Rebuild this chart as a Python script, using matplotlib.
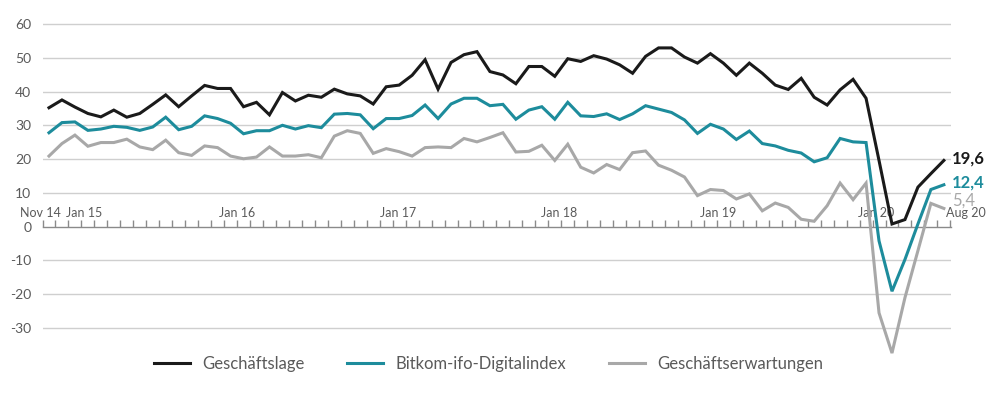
import matplotlib.pyplot as plt
import numpy as np

plt.rcParams['font.family'] = ['Lato', 'DejaVu Sans']
plt.rcParams['axes.unicode_minus'] = False

# monthly values Nov 2014 .. Aug 2020
months = np.arange(70)
lage = [35.2, 37.5, 35.4, 33.5, 32.5, 34.5, 32.4, 33.5, 36.2, 39.0,
        35.5, 38.7, 41.8, 40.9, 40.9, 35.5, 36.8, 33.1, 39.7, 37.2,
        38.9, 38.3, 40.7, 39.3, 38.7, 36.3, 41.4, 41.9, 44.8, 49.4,
        40.7, 48.6, 50.9, 51.8, 45.9, 44.9, 42.3, 47.4, 47.4, 44.5,
        49.7, 48.9, 50.6, 49.6, 47.9, 45.4, 50.4, 52.9, 52.9, 50.2,
        48.4, 51.2, 48.4, 44.8, 48.4, 45.4, 41.9, 40.6, 43.9, 38.3,
        36.0, 40.5, 43.6, 38.0, 19.6, 0.8, 2.1, 11.7, 15.7, 19.6]
index = [27.8, 30.8, 31.0, 28.5, 28.9, 29.7, 29.4, 28.5, 29.5, 32.4,
         28.7, 29.7, 32.8, 32.0, 30.6, 27.5, 28.4, 28.4, 30.0, 28.9,
         29.9, 29.3, 33.3, 33.5, 33.1, 29.0, 32.0, 32.0, 32.9, 36.0,
         32.0, 36.3, 38.0, 38.0, 35.8, 36.2, 31.8, 34.5, 35.5, 31.8,
         36.8, 32.8, 32.6, 33.4, 31.7, 33.4, 35.8, 34.8, 33.8, 31.6,
         27.6, 30.3, 28.9, 25.8, 28.3, 24.6, 23.9, 22.6, 21.8, 19.2,
         20.4, 26.1, 25.1, 24.9, -4.2, -19.1, -9.7, 0.8, 11.0, 12.4]
erwartung = [20.9, 24.6, 27.1, 23.8, 24.9, 24.9, 25.9, 23.6, 22.8, 25.6,
             21.9, 21.1, 23.9, 23.4, 20.9, 20.1, 20.6, 23.6, 20.9, 20.9,
             21.3, 20.4, 26.8, 28.4, 27.6, 21.7, 23.1, 22.2, 20.9, 23.4,
             23.6, 23.4, 26.1, 25.1, 26.4, 27.8, 22.1, 22.3, 24.1, 19.6,
             24.4, 17.6, 15.9, 18.4, 16.9, 21.9, 22.4, 18.2, 16.7, 14.7,
             9.2, 11.0, 10.7, 8.2, 9.7, 4.7, 7.0, 5.7, 2.2, 1.6,
             6.2, 12.9, 8.0, 12.9, -25.5, -37.4, -21.0, -7.1, 6.9, 5.4]

series_names = ['Geschäftslage', 'Bitkom-ifo-Digitalindex', 'Geschäftserwartungen']
end_labels = ['19,6', '12,4', '5,4']
month_labels = ['Nov 14', 'Jan 15', 'Jan 16', 'Jan 17', 'Jan 18', 'Jan 19', 'Jan 20', 'Aug 20']
# left edge of each month label, in months
label_x = [-2.2, 1.3, 13.1, 25.5, 37.9, 50.2, 62.4, 69.2]

colors = ['#1a1a1a', '#1d8c9c', '#a8a8a8']
text_grey = '#5a5a5a'

fig = plt.figure(figsize=(10, 3.95), dpi=100)
ax = fig.add_axes([0.0425, 0.0967, 0.9085, 0.8513])

ax.set_xlim(-0.5, 69.55)
ax.set_ylim(-38.5, 61)
ax.set_yticks([-30, -20, -10, 0, 10, 20, 30, 40, 50, 60])
for v in [-30, -20, -10, 10, 20, 30, 40, 50, 60]:
    ax.axhline(v, color='#cfcfcf', lw=1, zorder=1)

for s in ['top', 'right', 'left']:
    ax.spines[s].set_visible(False)
ax.spines['bottom'].set_position(('data', 0))
ax.spines['bottom'].set_color('#8a8a8a')
ax.spines['bottom'].set_linewidth(1)
ax.set_xticks([])
ax.set_xticks(np.arange(-0.5, 70, 1), minor=True)
ax.tick_params(axis='x', which='minor', direction='in', length=5, width=1, color='#8a8a8a')
ax.tick_params(axis='y', length=0, pad=8, labelsize=10, labelcolor=text_grey)

for lab, x in zip(month_labels, label_x):
    ax.text(x, 4.0, lab, ha='left', va='center', fontsize=9, color=text_grey, zorder=2)

handles = []
for vals, c, name in zip([lage, index, erwartung], colors, series_names):
    h, = ax.plot(months, vals, color=c, lw=2.2, solid_joinstyle='miter', zorder=4, label=name)
    handles.append(h)

end_y = [20.3, 13.2, 7.6]
for lab, c, y in zip(end_labels, colors, end_y):
    ax.text(69.6, y, lab, ha='left', va='center', fontsize=12, color=c,
            fontweight='bold' if c != colors[2] else 'normal', clip_on=False)

fig.legend(handles=handles, loc='center', bbox_to_anchor=(0.4885, 0.078), ncol=3,
           frameon=False, fontsize=12, handlelength=2.15, handletextpad=0.75,
           columnspacing=2.55, labelcolor=text_grey)

fig.savefig('out.png', dpi=100)
